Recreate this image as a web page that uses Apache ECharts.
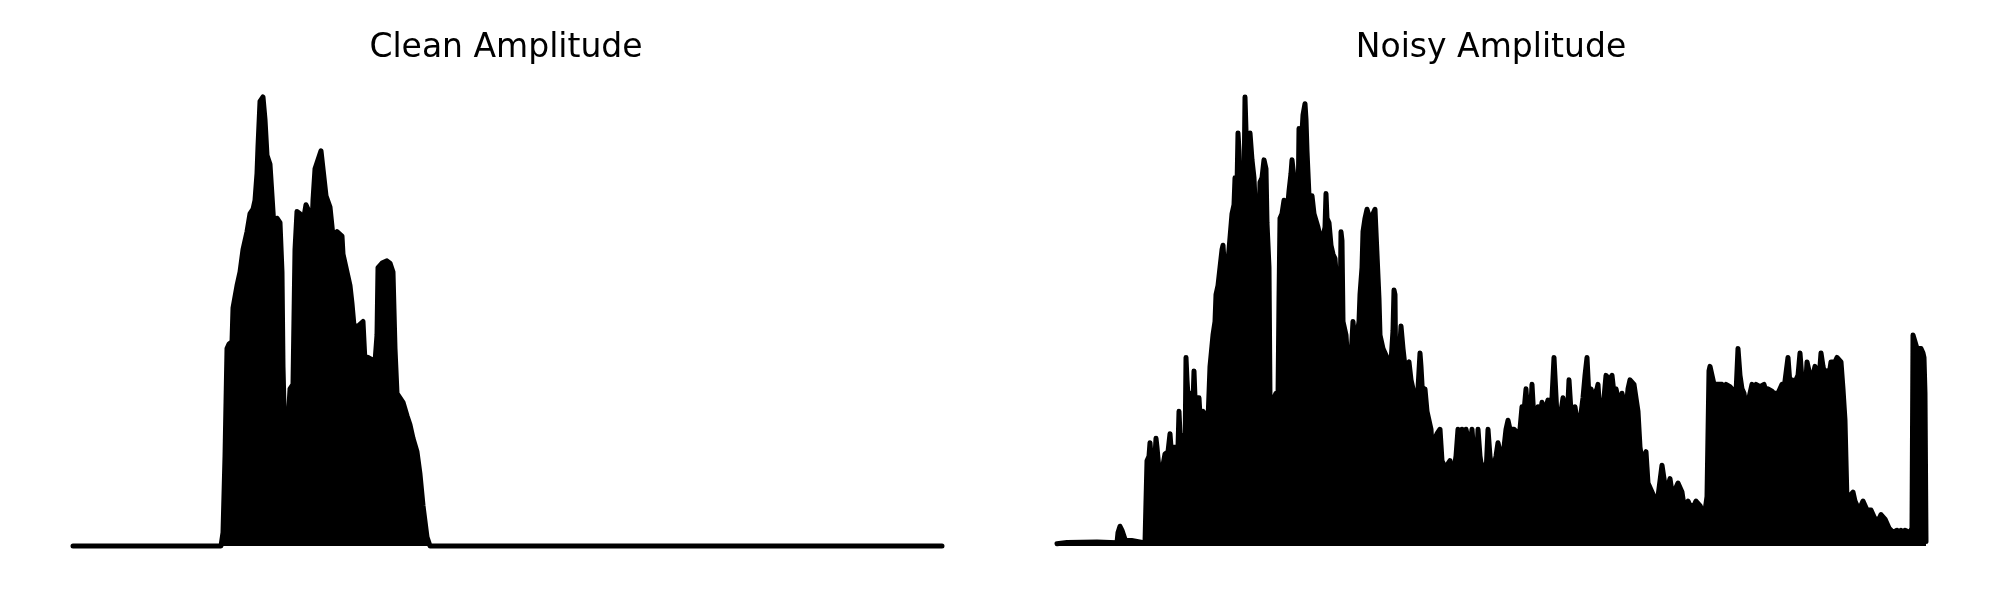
<!DOCTYPE html>
<html>
<head>
<meta charset="utf-8">
<title>Amplitude</title>
<script src="https://cdn.jsdelivr.net/npm/echarts@6/dist/echarts.min.js"></script>
<style>
  body { margin: 0; background: #fff; }
  #main { width: 2000px; height: 600px; }
</style>
</head>
<body>
<div id="main"></div>
<script>
// 标题
var titles = ['Clean Amplitude', 'Noisy Amplitude'];

// 干净信号包络 [样本位置, 归一化幅度]
var cleanAmp = [
	[0,0],[148,0],[150,0.03],[152,0.2],[154,0.44],[156,0.45],[159,0.455],[160,0.53],[164,0.58],[167,0.61],
	[170,0.66],[174,0.70],[177,0.74],[180,0.75],[182,0.77],[184,0.83],[185,0.89],[187,0.99],[190,1.0],[192,0.95],
	[194,0.87],[197,0.85],[199,0.78],[201,0.71],[204,0.73],[207,0.72],[209,0.61],[210,0.40],[212,0.22],[214,0.23],
	[217,0.35],[220,0.36],[222,0.66],[224,0.745],[227,0.74],[229,0.67],[230,0.72],[233,0.76],[235,0.75],[239,0.71],
	[240,0.77],[242,0.84],[245,0.86],[248,0.88],[250,0.84],[253,0.78],[257,0.755],[260,0.69],[264,0.70],[266,0.70],
	[269,0.69],[270,0.65],[274,0.61],[277,0.58],[279,0.54],[281,0.49],[285,0.49],[290,0.50],[292,0.41],[295,0.42],
	[299,0.415],[302,0.41],[304,0.47],[305,0.62],[309,0.63],[314,0.635],[317,0.63],[320,0.61],[322,0.44],[324,0.34],
	[327,0.33],[330,0.32],[334,0.29],[337,0.27],[340,0.24],[344,0.21],[347,0.16],[350,0.09],[354,0.02],[357,0],
	[869,0]
];

// 含噪信号包络
var noisyAmp = [
	[0,0.005],[10,0.008],[40,0.009],[60,0.007],[61,0.03],[63,0.044],[65,0.035],[68,0.015],[88,0.007],
	[89,0.1],[90,0.19],[92,0.20],[93,0.23],[94,0.20],[96,0.21],[98,0.20],[99,0.24],[100,0.22],[102,0.17],
	[105,0.12],[106,0.18],[108,0.205],[111,0.21],[113,0.25],[114,0.22],[117,0.22],[119,0.22],[121,0.22],[122,0.30],
	[123,0.25],[126,0.24],[128,0.20],[129,0.42],[130,0.37],[132,0.30],[134,0.34],[136,0.32],[137,0.39],[138,0.33],
	[140,0.33],[142,0.33],[144,0.25],[146,0.30],[148,0.30],[151,0.28],[153,0.40],[156,0.47],[158,0.50],[159,0.56],
	[161,0.58],[163,0.62],[165,0.66],[166,0.67],[168,0.60],[170,0.61],[172,0.66],[174,0.66],[175,0.74],[177,0.76],
	[178,0.82],[180,0.80],[181,0.92],[182,0.88],[183,0.80],[185,0.80],[186,0.84],[187,0.80],[188,1.0],[190,0.85],
	[192,0.84],[193,0.92],[195,0.86],[197,0.82],[198,0.77],[200,0.77],[202,0.72],[203,0.81],[205,0.82],[207,0.86],
	[209,0.84],[210,0.72],[212,0.62],[213,0.33],[215,0.31],[217,0.33],[219,0.34],[221,0.33],[222,0.55],[223,0.73],
	[225,0.74],[227,0.77],[229,0.77],[230,0.74],[232,0.79],[234,0.83],[235,0.86],[237,0.82],[239,0.77],[241,0.74],
	[242,0.93],[244,0.87],[245,0.92],[246,0.96],[248,0.985],[249,0.95],[250,0.88],[252,0.78],[255,0.78],[257,0.74],
	[259,0.74],[261,0.71],[263,0.69],[265,0.68],[267,0.70],[268,0.71],[269,0.785],[270,0.73],[272,0.72],[274,0.67],
	[276,0.65],[278,0.64],[280,0.58],[282,0.51],[283,0.50],[284,0.70],[285,0.68],[286,0.50],[289,0.47],[291,0.40],
	[293,0.38],[295,0.38],[296,0.50],[297,0.50],[298,0.45],[300,0.47],[302,0.50],[303,0.56],[305,0.62],[306,0.70],
	[308,0.73],[310,0.75],[312,0.75],[314,0.72],[316,0.74],[318,0.75],[320,0.65],[322,0.55],[323,0.47],[326,0.44],
	[330,0.42],[332,0.40],[334,0.41],[336,0.48],[337,0.57],[338,0.56],[339,0.32],[341,0.40],[343,0.45],[344,0.49],
	[346,0.44],[348,0.40],[350,0.40],[352,0.41],[354,0.37],[356,0.35],[358,0.31],[359,0.28],[361,0.35],[363,0.43],
	[364,0.40],[366,0.32],[368,0.35],[370,0.30],[372,0.30],[374,0.26],[376,0.18],[378,0.24],[380,0.25],[381,0.25],
	[383,0.26],[385,0.19],[387,0.18],[390,0.18],[393,0.19],[395,0.16],[397,0.17],[399,0.20],[401,0.26],[403,0.20],
	[405,0.26],[407,0.23],[409,0.26],[411,0.24],[413,0.22],[415,0.26],[417,0.20],[419,0.15],[421,0.26],[423,0.20],
	[425,0.17],[427,0.18],[429,0.16],[431,0.26],[433,0.20],[435,0.17],[437,0.18],[439,0.20],[441,0.23],[443,0.21],
	[445,0.16],[447,0.22],[449,0.26],[451,0.28],[453,0.26],[455,0.26],[457,0.26],[459,0.26],[461,0.25],[463,0.26],
	[465,0.31],[467,0.30],[469,0.35],[471,0.28],[473,0.27],[475,0.36],[477,0.28],[479,0.29],[481,0.31],[483,0.29],
	[485,0.32],[487,0.29],[489,0.31],[491,0.325],[493,0.32],[495,0.33],[497,0.42],[498,0.42],[500,0.29],[502,0.28],
	[504,0.30],[506,0.33],[508,0.30],[510,0.27],[512,0.37],[514,0.30],[516,0.27],[518,0.31],[520,0.28],[522,0.26],
	[524,0.26],[526,0.33],[528,0.38],[530,0.42],[532,0.33],[534,0.35],[536,0.33],[538,0.34],[540,0.35],[541,0.36],
	[543,0.29],[545,0.31],[547,0.33],[549,0.38],[551,0.38],[553,0.37],[555,0.38],[557,0.34],[559,0.35],[561,0.33],
	[563,0.30],[565,0.34],[567,0.32],[569,0.30],[571,0.35],[573,0.37],[575,0.37],[577,0.36],[579,0.33],[581,0.30],
	[583,0.22],[585,0.19],[587,0.20],[589,0.21],[591,0.14],[593,0.14],[595,0.12],[597,0.11],[599,0.10],[601,0.11],
	[603,0.11],[605,0.18],[607,0.15],[609,0.12],[611,0.12],[613,0.15],[615,0.12],[617,0.11],[619,0.13],[621,0.14],
	[623,0.14],[625,0.12],[627,0.09],[629,0.09],[631,0.10],[633,0.09],[635,0.09],[637,0.09],[639,0.10],[641,0.10],
	[643,0.09],[645,0.08],[648,0.078],[650,0.11],[652,0.39],[653,0.40],[655,0.40],[657,0.36],[659,0.36],[661,0.36],
	[663,0.36],[665,0.36],[667,0.355],[669,0.36],[671,0.36],[673,0.355],[675,0.35],[677,0.35],[679,0.34],[681,0.44],
	[683,0.38],[685,0.35],[687,0.34],[689,0.31],[691,0.32],[693,0.34],[695,0.36],[697,0.355],[699,0.36],[701,0.36],
	[703,0.355],[705,0.355],[707,0.36],[709,0.345],[711,0.35],[713,0.35],[715,0.345],[717,0.34],[719,0.34],[721,0.34],
	[723,0.34],[725,0.36],[727,0.35],[729,0.35],[731,0.42],[733,0.36],[735,0.37],[737,0.36],[739,0.36],[741,0.38],
	[743,0.43],[745,0.37],[747,0.38],[749,0.37],[750,0.41],[752,0.39],[754,0.36],[756,0.36],[758,0.40],[760,0.39],
	[762,0.37],[764,0.43],[766,0.40],[768,0.38],[770,0.39],[772,0.38],[774,0.41],[776,0.41],[778,0.41],[780,0.42],
	[782,0.42],[784,0.41],[786,0.35],[788,0.28],[790,0.10],[792,0.11],[794,0.11],[796,0.12],[798,0.10],[800,0.09],
	[802,0.08],[804,0.09],[806,0.10],[808,0.09],[810,0.08],[812,0.08],[814,0.08],[816,0.07],[818,0.06],[820,0.06],
	[822,0.06],[824,0.07],[826,0.07],[828,0.06],[830,0.05],[832,0.04],[834,0.035],[836,0.03],[838,0.03],[840,0.035],
	[842,0.03],[844,0.035],[846,0.03],[848,0.035],[850,0.035],[853,0.03],[855,0.04],[856,0.47],[858,0.47],[860,0.44],
	[862,0.44],[864,0.44],[866,0.43],[867,0.42],[868,0.34],[869,0.01]
];

var myChart = echarts.init(document.getElementById('main'));

// 两个子图的共同样式
var makeSeries = function(idx, data) {
	return {
		type: 'line',
		xAxisIndex: idx,
		yAxisIndex: idx,
		data: data,
		showSymbol: false,
		clip: false,
		animation: false,
		lineStyle: { color: '#000', width: 5, cap: 'round', join: 'round' },
		areaStyle: { color: '#000', opacity: 1 }
	};
};

var axisX = function(idx) {
	return { type: 'value', gridIndex: idx, min: 0, max: 869, show: false };
};
var axisY = function(idx) {
	return { type: 'value', gridIndex: idx, min: 0, max: 1, show: false };
};

var option = {
	backgroundColor: '#fff',
	title: [
		{ text: titles[0], left: 501, top: 27, textAlign: 'center',
		  textStyle: { fontFamily: 'DejaVu Sans', fontSize: 33, fontWeight: 'normal', color: '#000' } },
		{ text: titles[1], left: 1486, top: 27, textAlign: 'center',
		  textStyle: { fontFamily: 'DejaVu Sans', fontSize: 33, fontWeight: 'normal', color: '#000' } }
	],
	grid: [
		{ left: 73, top: 97, width: 869, height: 449 },
		{ left: 1057, top: 97, width: 869, height: 449 }
	],
	xAxis: [axisX(0), axisX(1)],
	yAxis: [axisY(0), axisY(1)],
	series: [makeSeries(0, cleanAmp), makeSeries(1, noisyAmp)]
};

myChart.setOption(option);
</script>
</body>
</html>
